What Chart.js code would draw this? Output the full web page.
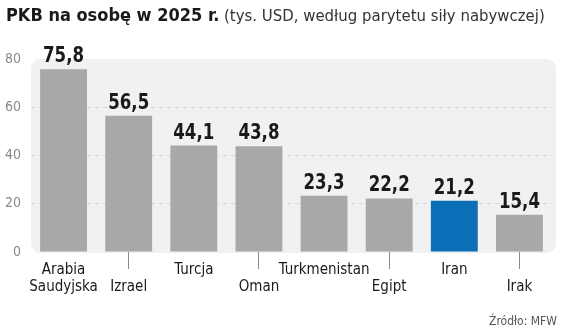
<!DOCTYPE html>
<html>
<head>
<meta charset="utf-8">
<script src="https://cdn.jsdelivr.net/npm/chart.js@4.4.1/dist/chart.umd.min.js"></script>
<style>
  body { margin: 0; background: #fff; }
  #wrap { position: relative; width: 564px; height: 334px; }
  #title { position: absolute; left: 6px; top: 4px; white-space: nowrap; color: #1a1a1a;
    font-family: 'DejaVu Sans Condensed', sans-serif; }
  #title b { font-size: 18px; font-weight: bold; }
  #title span { font-size: 16.6px; color: #333; font-family: 'DejaVu Sans Condensed', sans-serif; font-weight: 300; }
  #source { position: absolute; right: 7px; top: 314px; font-size: 12px; color: #555;
    font-family: 'DejaVu Sans Condensed', sans-serif; }
</style>
</head>
<body>
<div id="wrap">
  <canvas id="chart" width="564" height="334"></canvas>
  <div id="title"><b>PKB na osobę w 2025 r.</b> <span>(tys. USD, według parytetu siły nabywczej)</span></div>
  <div id="source">Źródło: MFW</div>
</div>
<script>
const kraje = ['Arabia Saudyjska', 'Izrael', 'Turcja', 'Oman', 'Turkmenistan', 'Egipt', 'Iran', 'Irak'];
const etykiety = [['Arabia', 'Saudyjska'], ['', 'Izrael'], ['Turcja'], ['', 'Oman'], ['Turkmenistan'], ['', 'Egipt'], ['Iran'], ['', 'Irak']];
const pkb = [75.8, 56.5, 44.1, 43.8, 23.3, 22.2, 21.2, 15.4];
const wyrozniony = 'Iran';

const narrow = "'DejaVu Sans Condensed', sans-serif";

const tloPanelu = {
  id: 'tloPanelu',
  beforeDraw(chart) {
    const a = chart.chartArea, ctx = chart.ctx;
    ctx.save();
    ctx.fillStyle = '#f1f1f1';
    ctx.beginPath();
    ctx.roundRect(a.left, a.top, a.right - a.left + 4, a.bottom - a.top + 1, 9);
    ctx.fill();
    ctx.restore();
  }
};

const wartosci = {
  id: 'wartosci',
  afterDatasetsDraw(chart) {
    const ctx = chart.ctx;
    const meta = chart.getDatasetMeta(0);
    ctx.save();
    ctx.font = "bold 21px 'DejaVu Sans Condensed', sans-serif";
    ctx.fillStyle = '#1a1a1a';
    ctx.textAlign = 'center';
    ctx.textBaseline = 'alphabetic';
    meta.data.forEach((bar, i) => {
      ctx.save();
      ctx.translate(bar.x, bar.y - 7);
      ctx.scale(0.88, 1);
      ctx.fillText(pkb[i].toFixed(1).replace('.', ','), 0, 0);
      ctx.restore();
    });
    ctx.restore();
  }
};

new Chart(document.getElementById('chart'), {
  type: 'bar',
  data: {
    labels: etykiety,
    datasets: [{
      data: pkb,
      backgroundColor: kraje.map(k => k === wyrozniony ? '#0a6fb7' : '#a8a8aa'),
      borderWidth: 0,
      barPercentage: 0.72,
      categoryPercentage: 1
    }]
  },
  plugins: [tloPanelu, wartosci],
  options: {
    responsive: false,
    animation: false,
    layout: { padding: { top: 59, right: 12, bottom: 0, left: 0 } },
    plugins: { legend: { display: false }, tooltip: { enabled: false } },
    scales: {
      x: {
        afterFit: (s) => { s.height = 82; },
        border: { display: false },
        grid: {
          offset: false,
          drawOnChartArea: false,
          drawTicks: true,
          tickLength: 17,
          tickColor: (c) => c.index % 2 ? '#8a8a8a' : 'rgba(0,0,0,0)'
        },
        ticks: {
          color: '#1a1a1a',
          padding: -7,
          maxRotation: 0,
          autoSkip: false,
          font: { family: narrow, size: 15, lineHeight: 1.12 }
        }
      },
      y: {
        min: 0,
        max: 80,
        afterFit: (s) => { s.width = 31; },
        border: { display: false, dash: [4, 4] },
        grid: {
          drawTicks: false,
          color: (c) => (c.tick.value > 0 && c.tick.value < 80) ? '#d6d6d6' : 'rgba(0,0,0,0)'
        },
        ticks: {
          stepSize: 20,
          color: '#888',
          padding: 10,
          font: { family: narrow, size: 14 }
        }
      }
    }
  }
});
</script>
</body>
</html>
